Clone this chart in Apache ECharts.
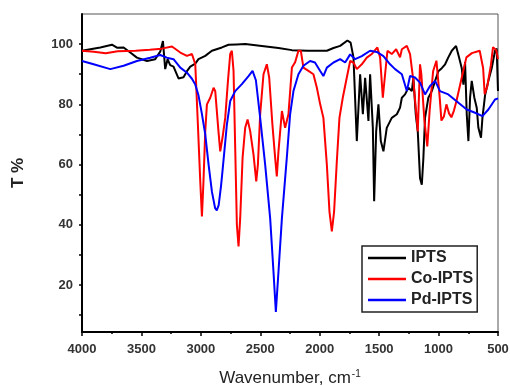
<!DOCTYPE html>
<html>
<head>
<meta charset="utf-8">
<script src="https://cdn.jsdelivr.net/npm/echarts@6/dist/echarts.min.js"></script>
<style>
  html,body{margin:0;padding:0;background:#fff;}
  #ftir{width:510px;height:386px;}
</style>
</head>
<body>
<div id="ftir"></div>
<script>
// wavenumber (cm-1) / transmittance (%)
var iptsWn=[4000,3930,3846,3748,3706,3650,3594,3538,3453,3384,3342,3319,3300,3280,3258,3230,3188,3146,3117,3089,3073,3047,3020,2963,2907,2823,2767,2700,2627,2487,2347,2234,2100,1940,1884,1828,1767,1740,1716,1688,1660,1637,1618,1590,1576,1553,1542,1525,1506,1486,1464,1436,1394,1351,1324,1309,1282,1254,1225,1212,1192,1175,1156,1141,1128,1114,1086,1057,1029,1002,973,945,918,889,853,828,805,791,777,763,749,735,721,699,679,665,643,631,609,581,553,525,511,500];
var iptsT=[97.8,98.3,98.9,99.8,98.8,98.9,97.2,95.5,94.4,95,97.5,101,91.7,95,93,92.5,88.6,89,91,92.5,92.8,93.5,95,96.1,97.8,98.9,99.8,99.9,100,99.4,98.7,98,97.8,97.8,98.7,99.4,101.2,100.5,95.6,67.8,90,76.7,88.8,74.5,90,72.2,47.8,71,80,67.8,64.4,72.2,75.5,76.7,78.9,82.2,83.3,85.5,84.4,88.8,76.7,71,55.5,53.3,62,75.5,82.2,84.4,87.8,91,92,93.3,95.6,97.8,99.4,95.6,92,86.5,94,76.7,67.8,82.2,87.8,82.2,78.9,72.2,68.9,75.5,83,87.8,92,97.8,98.5,84.4];

var coWn=[4000,3900,3800,3700,3550,3430,3330,3243,3173,3117,3075,3047,3025,3005,2991,2978,2963,2949,2921,2893,2879,2852,2837,2818,2795,2772,2753,2739,2725,2711,2697,2683,2669,2649,2627,2607,2585,2557,2534,2520,2501,2473,2445,2425,2398,2375,2361,2347,2318,2291,2263,2234,2207,2179,2159,2137,2095,2053,2024,1996,1969,1940,1918,1898,1879,1856,1834,1806,1772,1744,1716,1688,1646,1604,1562,1515,1492,1469,1450,1430,1394,1357,1324,1309,1267,1240,1212,1190,1175,1156,1145,1120,1095,1075,1046,1018,990,976,955,934,912,892,870,850,810,766,720,654,625,612,590,560,542,515,500];
var coT=[97.8,97.5,97,97.6,97.8,98.1,98.5,99.2,97.2,96.1,96.7,93.3,73.3,54.4,42.8,54.4,71.1,80,82.2,85.5,84.4,71.1,64.4,68.9,75.5,87.8,96.7,97.8,91.1,65.5,40,32.8,42.2,62.2,72.2,75,71.1,63.3,54.4,60,76.7,90,93.3,88.9,73.3,62.2,56.1,64.4,77.8,72.2,76.7,92.2,94,97.8,97.8,92.2,91.1,90,85.5,80,75.5,60,44.4,37.8,44.4,61.1,75.5,82.2,88.9,94.4,93.9,91.7,93.3,95.5,96.7,98.9,95.6,82.2,90,97.8,96.7,98.3,95.6,98.3,99.4,96.7,87.8,78,71,93.3,90,75,66,78,91,94.5,82,74.6,76,80,77,75.7,78,81,88,95.6,97,97.8,92,83.4,86,93,99,98,95];

var pdWn=[4000,3902,3762,3650,3538,3426,3342,3286,3230,3173,3117,3075,3048,3020,2992,2963,2935,2907,2880,2866,2850,2830,2818,2781,2753,2711,2655,2599,2565,2537,2501,2459,2417,2389,2369,2347,2318,2277,2249,2221,2179,2137,2081,2040,1996,1969,1940,1884,1828,1786,1744,1702,1646,1576,1520,1464,1408,1366,1309,1267,1240,1198,1156,1114,1072,1029,988,918,833,763,693,631,581,525,500];
var pdT=[94.4,93.3,91.7,92.8,94.4,95.5,96.4,95.5,95,92.2,90.5,88.5,86.7,83,77,70,60,51,45.5,44.8,46.5,53,57.8,73.3,81.1,84.4,86.7,89.4,91.1,88,75.5,60,42.2,24.4,11.1,24.4,42.2,62.2,76.7,84.4,90,92.8,94.4,93.9,91.1,89.4,92.2,93.9,95,93.9,96.6,95,96,97.8,97.4,96,93.3,91.7,90,84.4,89.4,88.9,87.2,83.3,86.1,87.8,84.4,83.3,80.5,78.3,77.2,76.1,78.3,81.6,82];

var yTicks=[10,20,30,40,50,60,70,80,90,100];
var yLabels=[20,40,60,80,100];

function pairs(wn,t){
  var out=[];
  for(var i=0;i<wn.length;i++){
    out.push([wn[i],t[i]]);
  }
  return out;
}

var labelFont={fontFamily:'Arial',fontSize:13,fontWeight:'bold',color:'#333'};

var option={
  animation:false,
  backgroundColor:'#fff',
  grid:{left:82,right:12,top:14,bottom:54,outerBoundsMode:'none',show:true,borderColor:'#555',borderWidth:1},
  legend:{
    orient:'vertical',
    left:362,
    top:246,
    padding:[4,4,4,6],
    icon:'rect',
    itemWidth:38,
    itemHeight:2.5,
    itemGap:5,
    borderColor:'#222',
    borderWidth:1.5,
    textStyle:{fontFamily:'Arial',fontSize:16,fontWeight:'bold',color:'#222'},
    data:['IPTS','Co-IPTS','Pd-IPTS']
  },
  xAxis:{
    type:'value',
    inverse:true,
    min:500,
    max:4000,
    interval:500,
    name:'Wavenumber, cm{sup|-1}',
    nameLocation:'middle',
    nameGap:37,
    nameTextStyle:{
      fontFamily:'Arial',fontSize:17,color:'#222',
      rich:{sup:{fontFamily:'Arial',fontSize:10,color:'#222',verticalAlign:'top',padding:[0,0,8,1]}}
    },
    axisLine:{lineStyle:{color:'#000',width:2}},
    axisTick:{length:4,lineStyle:{color:'#000',width:1.5}},
    minorTick:{show:true,splitNumber:2,length:2,lineStyle:{color:'#000',width:1.5}},
    splitLine:{show:false},
    axisLabel:Object.assign({margin:11,formatter:function(v){return String(v);}},labelFont)
  },
  yAxis:{
    type:'value',
    min:4.4,
    max:110,
    name:'T %',
    nameLocation:'middle',
    nameRotate:90,
    nameGap:55,
    nameTextStyle:{fontFamily:'Arial',fontSize:17,fontWeight:'bold',color:'#222'},
    axisLine:{show:true,lineStyle:{color:'#000',width:2}},
    axisTick:{show:true,length:3,customValues:yTicks,lineStyle:{color:'#000',width:1.5}},
    splitLine:{show:false},
    axisLabel:Object.assign({margin:9,customValues:yLabels},labelFont)
  },
  series:[
    {name:'IPTS',type:'line',symbol:'none',data:pairs(iptsWn,iptsT),lineStyle:{color:'#000',width:2},itemStyle:{color:'#000'}},
    {name:'Co-IPTS',type:'line',symbol:'none',data:pairs(coWn,coT),lineStyle:{color:'#ff0000',width:2},itemStyle:{color:'#ff0000'}},
    {name:'Pd-IPTS',type:'line',symbol:'none',data:pairs(pdWn,pdT),lineStyle:{color:'#0000ff',width:2},itemStyle:{color:'#0000ff'}}
  ]
};

var chart=echarts.init(document.getElementById('ftir'));
chart.setOption(option);
</script>
</body>
</html>
